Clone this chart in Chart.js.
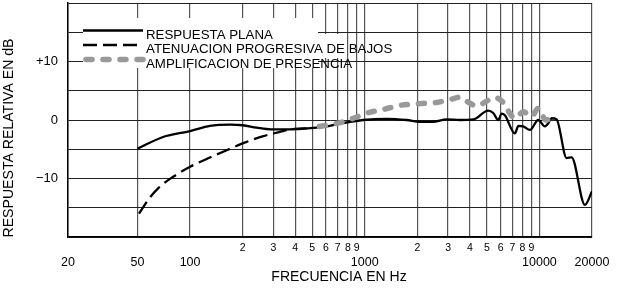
<!DOCTYPE html>
<html>
<head>
<meta charset="utf-8">
<script src="https://cdn.jsdelivr.net/npm/chart.js@4"></script>
<style>
  html, body { margin: 0; padding: 0; background: #fff; }
  canvas { display: block; }
</style>
</head>
<body>
<canvas id="chart" width="623" height="288"></canvas>
<script>
// frequency axis: ticks and their printed labels (single digits go on the upper row)
const freqTicks = [20, 50, 100, 200, 300, 400, 500, 600, 700, 800, 900, 1000,
  2000, 3000, 4000, 5000, 6000, 7000, 8000, 9000, 10000, 20000];
const freqLabels = ['20', '50', '100', '2', '3', '4', '5', '6', '7', '8', '9', '1000',
  '2', '3', '4', '5', '6', '7', '8', '9', '10000', '20000'];

// dB axis labels
const dbLabels = { '10': '+10', '0': '0', '-10': '\u221210' };

const seriesNames = ['RESPUESTA PLANA', 'ATENUACION PROGRESIVA DE BAJOS', 'AMPLIFICACION DE PRESENCIA'];

// flat response
const planaFreq = [50, 70, 100, 130, 170, 200, 240, 290, 370, 490, 630, 720, 980, 1330, 1740, 2070,
  2450, 2950, 3500, 4180, 5090, 5440, 5810, 6080, 6340, 7240, 7570, 8080, 8830, 9840, 10740,
  11220, 11740, 12540, 14320, 15280, 18220, 20000];
const planaDb = [-4.9, -2.9, -1.9, -1.0, -0.8, -0.9, -1.3, -1.6, -1.6, -1.4, -1.0, -0.6, 0.0, 0.2, 0.0, -0.3,
  -0.3, 0.1, 0.0, 0.1, 1.6, 1.2, 0.0, 1.1, 0.8, -2.3, -1.0, -1.1, -1.7, 0.0, -1.1,
  -0.6, 0.3, 0.1, -6.5, -6.4, -14.5, -12.2];

// bass roll-off
const bajosFreq = [51, 58, 66, 80, 100, 130, 170, 200, 260, 330, 380, 490];
const bajosDb = [-16.0, -13.5, -11.6, -9.7, -8.0, -6.4, -4.9, -4.0, -2.8, -2.0, -1.6, -1.4];

// presence boost
const presFreq = [550, 690, 860, 1030, 1280, 1590, 2070, 2580, 3080, 3510, 3830, 4370, 5090, 5440,
  6160, 6400, 7240, 8080, 9020, 9840, 10900, 11740];
const presDb = [-1.1, -0.6, 0.3, 1.2, 1.8, 2.5, 2.8, 3.0, 3.5, 3.9, 3.2, 2.4, 3.4, 3.9,
  3.1, 2.3, 0.3, 1.4, 0.6, 2.0, 0.0, 0.2];

const toPoints = (xs, ys) => xs.map((x, i) => ({ x: x, y: ys[i] }));

const FONT = "'Liberation Sans', Arial, sans-serif";
Chart.defaults.font.family = FONT;
Chart.defaults.color = '#000';

const styles = [
  { color: '#000', width: 2.3, dash: [], cap: 'butt' },
  { color: '#000', width: 2.3, dash: [14, 6], cap: 'butt' },
  { color: '#999', width: 5.5, dash: [6, 11], cap: 'round' }
];

// legend box + axis titles
const overlay = {
  id: 'overlay',
  beforeDatasetsDraw(chart) {
    const ctx = chart.ctx;
    ctx.save();
    ctx.fillStyle = '#fff';
    ctx.fillRect(83, 18, 235, 50);
    ctx.fillRect(318, 34, 27, 24);
    seriesNames.forEach((name, i) => {
      const y = 30.5 + i * 14.5;
      const s = styles[i];
      ctx.strokeStyle = s.color;
      ctx.lineWidth = s.width;
      ctx.lineCap = s.cap;
      ctx.setLineDash(s.dash);
      ctx.beginPath();
      ctx.moveTo(s.cap === 'round' ? 86 : 83, y);
      ctx.lineTo(143, y);
      ctx.stroke();
      ctx.setLineDash([]);
      ctx.fillStyle = '#000';
      ctx.font = '13.3px ' + FONT;
      ctx.textBaseline = 'alphabetic';
      ctx.textAlign = 'left';
      ctx.fillText(name, 146, y + 8);
    });
    ctx.restore();
  },
  afterDraw(chart) {
    const ctx = chart.ctx;
    ctx.save();
    ctx.fillStyle = '#000';
    ctx.textAlign = 'center';
    ctx.textBaseline = 'middle';
    ctx.font = '14px ' + FONT;
    ctx.fillText('FRECUENCIA EN Hz', 339, 277);
    ctx.translate(9, 138);
    ctx.rotate(-Math.PI / 2);
    ctx.scale(0.94, 1);
    ctx.font = '15px ' + FONT;
    ctx.fillText('RESPUESTA RELATIVA EN dB', 0, 0);
    ctx.restore();
  }
};

const data = [toPoints(planaFreq, planaDb), toPoints(bajosFreq, bajosDb), toPoints(presFreq, presDb)];

new Chart(document.getElementById('chart'), {
  type: 'line',
  data: {
    datasets: [2, 0, 1].map(i => ({
      label: seriesNames[i],
      data: data[i],
      borderColor: styles[i].color,
      borderWidth: styles[i].width,
      borderDash: styles[i].dash,
      borderCapStyle: styles[i].cap,
      pointRadius: 0,
      cubicInterpolationMode: 'monotone',
      fill: false
    }))
  },
  options: {
    responsive: false,
    animation: false,
    devicePixelRatio: 1,
    layout: { padding: { top: 3, right: 31, left: 0, bottom: 0 } },
    plugins: { legend: { display: false }, tooltip: { enabled: false } },
    scales: {
      x: {
        type: 'logarithmic',
        min: 20,
        max: 20000,
        afterBuildTicks: (axis) => { axis.ticks = freqTicks.map(v => ({ value: v })); },
        afterFit: (scale) => { scale.height = 51; scale.paddingLeft = 0; scale.paddingRight = 0; },
        grid: { color: '#555', lineWidth: 1.2, drawTicks: false },
        border: { color: '#000', width: 1.5 },
        ticks: {
          autoSkip: false,
          maxRotation: 0,
          padding: 4,
          color: '#000',
          font: (ctx) => freqLabels[ctx.index] && freqLabels[ctx.index].length === 1
            ? { size: 10.5, lineHeight: '15px' }
            : { size: 12.5, lineHeight: '14.3px' },
          callback: (v, i) => freqLabels[i].length === 1 ? freqLabels[i] : ['', freqLabels[i]]
        }
      },
      y: {
        min: -20,
        max: 20,
        afterFit: (scale) => { scale.width = 68; scale.paddingTop = 0; scale.paddingBottom = 0; },
        grid: { color: '#222', lineWidth: 1, drawTicks: false },
        border: { color: '#000', width: 1.5 },
        ticks: {
          stepSize: 5,
          padding: 10,
          color: '#000',
          font: { size: 13 },
          callback: (v) => dbLabels[String(v)] || ''
        }
      }
    }
  },
  plugins: [overlay]
});
</script>
</body>
</html>
